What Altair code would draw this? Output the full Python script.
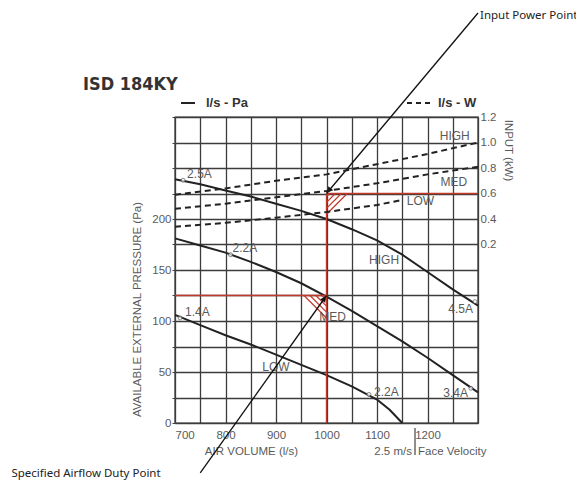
import math
import altair as alt
import pandas as pd

# ---------------- data ----------------
# fan curves: air volume (l/s) vs available external pressure (Pa)
vol_high = [700, 750, 800, 850, 900, 950, 1000, 1050, 1100, 1150, 1200, 1250, 1300]
pa_high = [239, 234, 228, 222, 215, 208, 200, 190, 179, 165, 148, 131, 115]
vol_med = [700, 750, 800, 850, 900, 950, 1000, 1050, 1100, 1150, 1200, 1250, 1300]
pa_med = [181, 174, 167, 158, 148, 137, 124, 110, 95, 80, 64, 47, 30]
vol_low = [700, 750, 800, 850, 900, 950, 1000, 1050, 1100, 1125, 1150]
pa_low = [106, 96, 86, 77, 67, 57, 47, 36, 23, 13, 0]

# input power curves: air volume (l/s) vs input (kW)
vol_pw = [700, 800, 900, 1000, 1100, 1200, 1300]
kw_high = [0.59, 0.64, 0.70, 0.75, 0.83, 0.91, 1.00]
kw_med = [0.48, 0.52, 0.57, 0.62, 0.68, 0.75, 0.81]
vol_pw_low = [700, 800, 900, 1000, 1100, 1150]
kw_low = [0.34, 0.37, 0.41, 0.455, 0.51, 0.55]

# current markers on fan curves
amp_labels = ["2.5A", "2.2A", "1.4A", "4.5A", "3.4A", "2.2A"]
amp_vol = [716, 810, 710, 1294, 1286, 1084]
amp_pa = [238, 165, 103, 119, 34, 28]
amp_text_vol = [724, 814, 720, 1290, 1280, 1094]
amp_text_pa = [244, 172, 109, 112, 29, 30]
amp_align = ["left", "left", "left", "right", "right", "left"]

# curve names
speed_names = ["HIGH", "MED", "LOW"]
fan_label_vol = [1114, 1012, 900]
fan_label_pa = [160, 104, 55]
pw_label_vol = [1254, 1252, 1186]
pw_label_kw = [1.05, 0.69, 0.54]

# duty / power points
duty_vol = 1000
duty_pa = 125
power_kw = 0.6
power_tri_vol = 1050
power_tri_low_pa = 200
duty_tri_vol = 955
duty_tri_low_pa = 100

# annotation arrows (tail positions, in chart units)
duty_arrow_tail = (750, -49)
power_arrow_tail = (1300, 402)
duty_text_pos = (376, -53)
power_text_pos = (1304, 396)

# axis settings
x_ticks = list(range(700, 1301, 50))
y_ticks = list(range(0, 301, 25))
kw_ticks = [0.2, 0.4, 0.6, 0.8, 1.0, 1.2]
KW_DOMAIN = [-1.2, 1.2]

W, H = 303, 306
SX, SY = W / 600.0, H / 300.0
RED = "#c0392b"
INK = "#222222"
GREY = "#5a5a5a"
FONT = "Liberation Sans"
COND = "DejaVu Sans Condensed, Liberation Sans, sans-serif"


def kw_to_pa(k):
    return (k - KW_DOMAIN[0]) / (KW_DOMAIN[1] - KW_DOMAIN[0]) * 300


def hatch(tri, slash=True, spacing=4.2):
    pts = [((v - 700) * SX, p * SY) for v, p in tri]
    f = (lambda X, Y: X - Y) if slash else (lambda X, Y: X + Y)
    vals = [f(*p) for p in pts]
    step = spacing * math.sqrt(2)
    segs = []
    c = min(vals) + step / 2
    while c < max(vals):
        found = []
        for i in range(3):
            A, B = pts[i], pts[(i + 1) % 3]
            fa, fb = f(*A) - c, f(*B) - c
            if fa * fb <= 0 and fa != fb:
                t = fa / (fa - fb)
                found.append((A[0] + t * (B[0] - A[0]), A[1] + t * (B[1] - A[1])))
        if len(found) >= 2:
            a, b = found[0], found[-1]
            best = 0
            for p in found:
                for q in found:
                    d = (p[0] - q[0]) ** 2 + (p[1] - q[1]) ** 2
                    if d > best:
                        best, a, b = d, p, q
            segs.append((a[0] / SX + 700, a[1] / SY, b[0] / SX + 700, b[1] / SY))
        c += step
    return segs


def arrow_angle(tail, head):
    dx = (head[0] - tail[0]) * SX
    dy = (head[1] - tail[1]) * SY
    return math.degrees(math.atan2(dx, dy)) % 360


def back_off(tail, head, px=4.0):
    dx = (head[0] - tail[0]) * SX
    dy = (head[1] - tail[1]) * SY
    L = math.hypot(dx, dy)
    return (head[0] - dx / L * px / SX, head[1] - dy / L * px / SY)


# ---------------- tables ----------------
fan_df = pd.concat([
    pd.DataFrame({"vol": vol_high, "pa": pa_high, "speed": "HIGH"}),
    pd.DataFrame({"vol": vol_med, "pa": pa_med, "speed": "MED"}),
    pd.DataFrame({"vol": vol_low, "pa": pa_low, "speed": "LOW"}),
])
pw_df = pd.concat([
    pd.DataFrame({"vol": vol_pw, "kw": kw_high, "speed": "HIGH"}),
    pd.DataFrame({"vol": vol_pw, "kw": kw_med, "speed": "MED"}),
    pd.DataFrame({"vol": vol_pw_low, "kw": kw_low, "speed": "LOW"}),
])

power_pa = kw_to_pa(power_kw)
red_df = pd.DataFrame({
    "vol": [700, duty_vol, duty_vol],
    "pa": [duty_pa, 0, power_pa],
    "vol2": [duty_vol, duty_vol, 1300],
    "pa2": [duty_pa, power_pa, power_pa],
})

tri_power = [(duty_vol, power_pa), (power_tri_vol, power_pa), (duty_vol, power_tri_low_pa)]
tri_duty = [(duty_tri_vol, duty_pa), (duty_vol, duty_pa), (duty_vol, duty_tri_low_pa)]
segs = hatch(tri_power, slash=True) + hatch(tri_duty, slash=False)
hatch_df = pd.DataFrame(segs, columns=["vol", "pa", "vol2", "pa2"])

amp_df = pd.DataFrame({"vol": amp_vol, "pa": amp_pa, "tv": amp_text_vol,
                       "tp": amp_text_pa, "label": amp_labels, "align": amp_align})
fan_lab_df = pd.DataFrame({"vol": fan_label_vol, "pa": fan_label_pa, "label": speed_names})
pw_lab_df = pd.DataFrame({"vol": pw_label_vol, "kw": pw_label_kw, "label": speed_names})

duty_head = (duty_vol, duty_pa)
power_head = (duty_vol, power_pa)
arrow_df = pd.DataFrame({
    "vol": [duty_arrow_tail[0], power_arrow_tail[0]],
    "pa": [duty_arrow_tail[1], power_arrow_tail[1]],
    "vol2": [duty_head[0], power_head[0]],
    "pa2": [duty_head[1], power_head[1]],
})
h1 = back_off(duty_arrow_tail, duty_head)
h2 = back_off(power_arrow_tail, power_head)
head_df = pd.DataFrame({
    "vol": [h1[0], h2[0]], "pa": [h1[1], h2[1]],
    "ang": [arrow_angle(duty_arrow_tail, duty_head), arrow_angle(power_arrow_tail, power_head)],
})
note_df = pd.DataFrame({
    "vol": [duty_text_pos[0], power_text_pos[0]],
    "pa": [duty_text_pos[1], power_text_pos[1]],
    "label": ["Specified Airflow Duty Point", "Input Power Point"],
})
one = pd.DataFrame({"a": [0]})

# ---------------- scales and axes (one axis object per scale) ----------------
xs = alt.Scale(domain=[700, 1300], nice=False, zero=False)
ys = alt.Scale(domain=[0, 300], nice=False)
ks = alt.Scale(domain=KW_DOMAIN, nice=False)

XA = alt.Axis(
    values=x_ticks, format="d",
    labelExpr="datum.value % 100 == 0 && datum.value < 1300 ? datum.label : ''",
    grid=True, ticks=False, labelPadding=6, domain=False,
    title="AIR VOLUME (l/s)", titleX=76, titleY=31, titleAlign="center",
    titleBaseline="alphabetic", titleFontWeight="normal", titleFontSize=11.5,
    titleColor=GREY)
YA = alt.Axis(
    values=y_ticks,
    labelExpr="datum.value % 50 == 0 && datum.value <= 200 ? datum.label : ''",
    grid=True, ticks=True, tickSize=3, labelPadding=1, domain=False,
    title="AVAILABLE EXTERNAL PRESSURE (Pa)", titleAngle=270, titleX=-38,
    titleY=192, titleAlign="center", titleBaseline="middle",
    titleFontWeight="normal", titleFontSize=11.5, titleColor=GREY)
KA = alt.Axis(
    orient="right", values=kw_ticks, format=".1f", grid=False, ticks=False,
    labelPadding=2, domain=False, title="INPUT (kW)", titleAngle=90, titleX=29,
    titleY=33, titleAlign="center", titleBaseline="middle", titleFontWeight="normal",
    titleFontSize=11.5, titleColor=GREY)

X = lambda f="vol": alt.X(f"{f}:Q", scale=xs, axis=XA)
Y = lambda f="pa": alt.Y(f"{f}:Q", scale=ys, axis=YA)
K = lambda f="kw": alt.Y(f"{f}:Q", scale=ks, axis=KA)

# ---------------- Pa layers ----------------
fan_lines = alt.Chart(fan_df).mark_line(color=INK, strokeWidth=2).encode(
    x=X(), y=Y(), detail="speed:N")

red_rules = alt.Chart(red_df).mark_rule(color=RED, strokeWidth=1.4).encode(
    x=X(), y=Y(), x2="vol2:Q", y2="pa2:Q")
hatch_rules = alt.Chart(hatch_df).mark_rule(color=RED, strokeWidth=1.2).encode(
    x=X(), y=Y(), x2="vol2:Q", y2="pa2:Q")

amp_pts = alt.Chart(amp_df).mark_point(shape="circle", size=16, filled=True,
                                        fill="white", stroke=GREY, strokeWidth=1).encode(
    x=X(), y=Y())
amp_txt_l = alt.Chart(amp_df[amp_df["align"] == "left"]).mark_text(
    align="left", baseline="middle", font=FONT, fontSize=12, color=GREY).encode(
    x=X("tv"), y=Y("tp"), text="label:N")
amp_txt_r = alt.Chart(amp_df[amp_df["align"] == "right"]).mark_text(
    align="right", baseline="middle", font=FONT, fontSize=12, color=GREY).encode(
    x=X("tv"), y=Y("tp"), text="label:N")
fan_txt = alt.Chart(fan_lab_df).mark_text(
    align="center", baseline="middle", font=FONT, fontSize=12, color=GREY).encode(
    x=X(), y=Y(), text="label:N")

arrows = alt.Chart(arrow_df).mark_rule(color="#111", strokeWidth=1.3).encode(
    x=X(), y=Y(), x2="vol2:Q", y2="pa2:Q")
heads = alt.Chart(head_df).mark_point(shape="triangle-up", filled=True, size=40,
                                      color="#111", opacity=1).encode(
    x=X(), y=Y(), angle=alt.Angle("ang:Q", scale=None))
notes = alt.Chart(note_df).mark_text(
    align="left", baseline="alphabetic", font="Noto Sans", fontSize=11.5, color="#222").encode(
    x=X(), y=Y(), text="label:N")

title_txt = alt.Chart(one).mark_text(
    text="ISD 184KY", align="left", baseline="alphabetic", font=COND,
    fontSize=18, fontWeight="bold", color="#333").encode(x=alt.value(-92), y=alt.value(-27))
leg_line1 = alt.Chart(one).mark_rule(color=INK, strokeWidth=2).encode(
    x=alt.value(6), x2=alt.value(20), y=alt.value(-14))
leg_txt1 = alt.Chart(one).mark_text(
    text="l/s - Pa", align="left", baseline="alphabetic", font=FONT, fontSize=13,
    fontWeight="bold", color="#333").encode(x=alt.value(31), y=alt.value(-10))
leg_line2 = alt.Chart(one).mark_rule(color=INK, strokeWidth=2, strokeDash=[5, 4]).encode(
    x=alt.value(232), x2=alt.value(256), y=alt.value(-14))
leg_txt2 = alt.Chart(one).mark_text(
    text="l/s - W", align="left", baseline="alphabetic", font=FONT, fontSize=13,
    fontWeight="bold", color="#333").encode(x=alt.value(263), y=alt.value(-10))

sep_rule = alt.Chart(one).mark_rule(color="#444", strokeWidth=1.2).encode(
    x=alt.value(240), y=alt.value(311), y2=alt.value(338))
fv_left = alt.Chart(one).mark_text(
    text="2.5 m/s", align="right", baseline="alphabetic", font=FONT, fontSize=11.5,
    color=GREY).encode(x=alt.value(237), y=alt.value(338))
fv_right = alt.Chart(one).mark_text(
    text="Face Velocity", align="left", baseline="alphabetic", font=FONT, fontSize=11.5,
    color=GREY).encode(x=alt.value(243), y=alt.value(338))

pa_group = alt.layer(fan_lines, red_rules, hatch_rules, amp_pts, amp_txt_l, amp_txt_r,
                     fan_txt, arrows, heads, notes, title_txt, leg_line1, leg_txt1,
                     leg_line2, leg_txt2, sep_rule, fv_left, fv_right)

# ---------------- kW layers ----------------
pw_lines = alt.Chart(pw_df).mark_line(color=INK, strokeWidth=2, strokeDash=[6, 4]).encode(
    x=X(), y=K(), detail="speed:N")
pw_txt = alt.Chart(pw_lab_df).mark_text(
    align="center", baseline="middle", font=FONT, fontSize=12, color=GREY).encode(
    x=X(), y=K(), text="label:N")
kw_group = alt.layer(pw_lines, pw_txt)

chart = alt.layer(pa_group, kw_group).resolve_scale(y="independent").properties(
    width=W, height=H,
    autosize=alt.AutoSizeParams(type="none"),
    padding={"left": 167, "top": 109, "right": 98, "bottom": 64},
    background="white",
).configure_view(stroke="#333", strokeWidth=1.4).configure_axis(
    gridColor="#3c3c3c", gridWidth=1.3, gridOpacity=1,
    labelFont=FONT, titleFont=FONT, labelColor=GREY, labelFontSize=11.5,
    tickColor="#444",
)

chart.save("out.html", embed_options={"renderer": "svg", "actions": False})
